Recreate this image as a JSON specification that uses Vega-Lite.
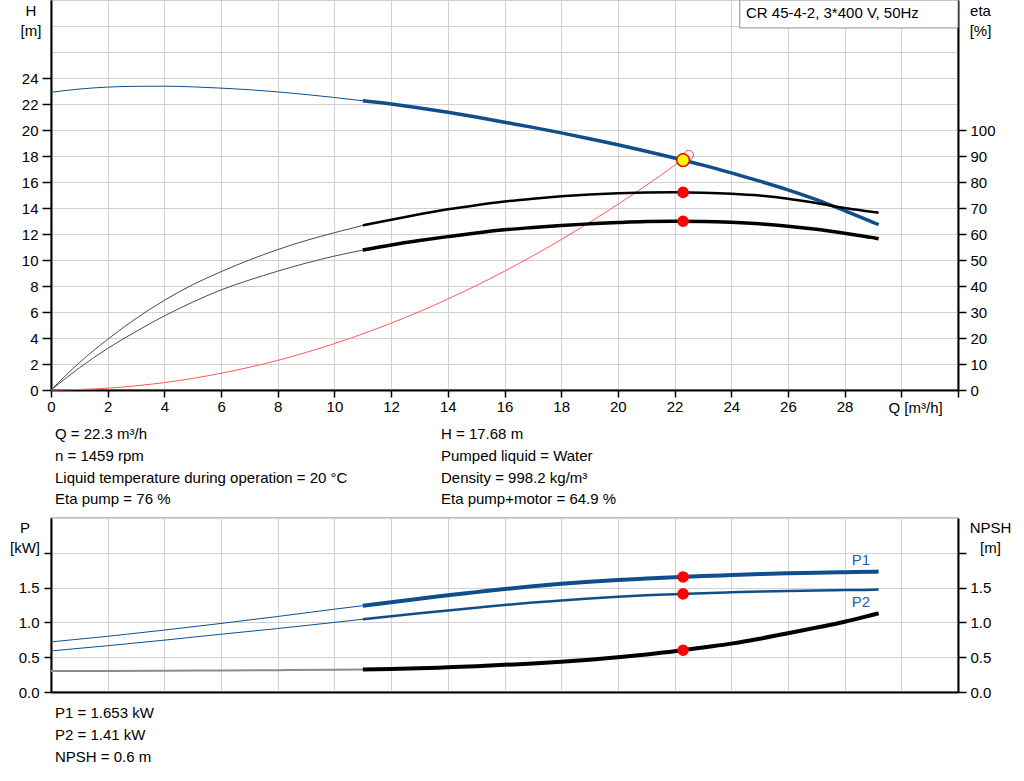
{
  "$schema": "https://vega.github.io/schema/vega-lite/v6.json",
  "description": "Pump curve CR 45-4-2: head, efficiency, power and NPSH against flow.",
  "autosize": {"type": "none"},
  "padding": {"left": 51, "top": 0, "right": 973, "bottom": 781},
  "background": "white",
  "config": {
    "font": "Liberation Sans",
    "view": {"stroke": null},
    "axis": {
      "labelFont": "Liberation Sans", "labelFontSize": 15, "labelColor": "#000",
      "labelFlush": false, "labelOverlap": false,
      "titleFont": "Liberation Sans", "titleFontSize": 15, "titleFontWeight": "normal", "titleColor": "#000",
      "domainColor": "#000", "domainWidth": 2,
      "tickColor": "#000", "tickWidth": 1.5,
      "gridColor": "#d2d2d2", "gridWidth": 1
    },
    "text": {"font": "Liberation Sans", "fontSize": 15, "color": "#000"}
  },
  "datasets": {
    "h": [
      {"seg": "ext", "Q": 0, "v": 22.9}, {"seg": "ext", "Q": 1, "v": 23.15}, {"seg": "ext", "Q": 2, "v": 23.3},
      {"seg": "ext", "Q": 3, "v": 23.36}, {"seg": "ext", "Q": 4, "v": 23.37}, {"seg": "ext", "Q": 5, "v": 23.32},
      {"seg": "ext", "Q": 6, "v": 23.22}, {"seg": "ext", "Q": 7, "v": 23.1}, {"seg": "ext", "Q": 8, "v": 22.93},
      {"seg": "ext", "Q": 9, "v": 22.73}, {"seg": "ext", "Q": 10, "v": 22.5}, {"seg": "ext", "Q": 11, "v": 22.25},
      {"seg": "op", "Q": 11, "v": 22.25}, {"seg": "op", "Q": 12, "v": 22.0}, {"seg": "op", "Q": 13, "v": 21.7},
      {"seg": "op", "Q": 14, "v": 21.37}, {"seg": "op", "Q": 15, "v": 21.0}, {"seg": "op", "Q": 16, "v": 20.6},
      {"seg": "op", "Q": 17, "v": 20.2}, {"seg": "op", "Q": 18, "v": 19.78}, {"seg": "op", "Q": 19, "v": 19.33},
      {"seg": "op", "Q": 20, "v": 18.86}, {"seg": "op", "Q": 21, "v": 18.37}, {"seg": "op", "Q": 22, "v": 17.85},
      {"seg": "op", "Q": 23, "v": 17.3}, {"seg": "op", "Q": 24, "v": 16.7}, {"seg": "op", "Q": 25, "v": 16.07},
      {"seg": "op", "Q": 26, "v": 15.4}, {"seg": "op", "Q": 27, "v": 14.65}, {"seg": "op", "Q": 28, "v": 13.8},
      {"seg": "op", "Q": 29, "v": 12.9}, {"seg": "op", "Q": 29.2, "v": 12.72}
    ],
    "eta": [
      {"curve": "pump", "seg": "ext", "Q": 0, "v": 0}, {"curve": "pump", "seg": "ext", "Q": 1, "v": 10.5},
      {"curve": "pump", "seg": "ext", "Q": 2, "v": 19.5}, {"curve": "pump", "seg": "ext", "Q": 3, "v": 27.5},
      {"curve": "pump", "seg": "ext", "Q": 4, "v": 34.5}, {"curve": "pump", "seg": "ext", "Q": 5, "v": 40.5},
      {"curve": "pump", "seg": "ext", "Q": 6, "v": 45.5}, {"curve": "pump", "seg": "ext", "Q": 7, "v": 50},
      {"curve": "pump", "seg": "ext", "Q": 8, "v": 54}, {"curve": "pump", "seg": "ext", "Q": 9, "v": 57.5},
      {"curve": "pump", "seg": "ext", "Q": 10, "v": 60.5}, {"curve": "pump", "seg": "ext", "Q": 11, "v": 63.3},
      {"curve": "pump", "seg": "op", "Q": 11, "v": 63.3}, {"curve": "pump", "seg": "op", "Q": 12, "v": 65.5},
      {"curve": "pump", "seg": "op", "Q": 13, "v": 67.6}, {"curve": "pump", "seg": "op", "Q": 14, "v": 69.5},
      {"curve": "pump", "seg": "op", "Q": 15, "v": 71.1}, {"curve": "pump", "seg": "op", "Q": 16, "v": 72.5},
      {"curve": "pump", "seg": "op", "Q": 17, "v": 73.6}, {"curve": "pump", "seg": "op", "Q": 18, "v": 74.5},
      {"curve": "pump", "seg": "op", "Q": 19, "v": 75.2}, {"curve": "pump", "seg": "op", "Q": 20, "v": 75.7},
      {"curve": "pump", "seg": "op", "Q": 21, "v": 76.0}, {"curve": "pump", "seg": "op", "Q": 22, "v": 76.1},
      {"curve": "pump", "seg": "op", "Q": 23, "v": 75.9}, {"curve": "pump", "seg": "op", "Q": 24, "v": 75.5},
      {"curve": "pump", "seg": "op", "Q": 25, "v": 74.8}, {"curve": "pump", "seg": "op", "Q": 26, "v": 73.6},
      {"curve": "pump", "seg": "op", "Q": 27, "v": 71.9}, {"curve": "pump", "seg": "op", "Q": 28, "v": 70.0},
      {"curve": "pump", "seg": "op", "Q": 29, "v": 68.5}, {"curve": "pump", "seg": "op", "Q": 29.2, "v": 68.2},
      {"curve": "total", "seg": "ext", "Q": 0, "v": 0}, {"curve": "total", "seg": "ext", "Q": 1, "v": 8.5},
      {"curve": "total", "seg": "ext", "Q": 2, "v": 16}, {"curve": "total", "seg": "ext", "Q": 3, "v": 22.5},
      {"curve": "total", "seg": "ext", "Q": 4, "v": 28.5}, {"curve": "total", "seg": "ext", "Q": 5, "v": 33.8},
      {"curve": "total", "seg": "ext", "Q": 6, "v": 38.5}, {"curve": "total", "seg": "ext", "Q": 7, "v": 42.3},
      {"curve": "total", "seg": "ext", "Q": 8, "v": 45.7}, {"curve": "total", "seg": "ext", "Q": 9, "v": 48.8},
      {"curve": "total", "seg": "ext", "Q": 10, "v": 51.5}, {"curve": "total", "seg": "ext", "Q": 11, "v": 53.8},
      {"curve": "total", "seg": "op", "Q": 11, "v": 53.8}, {"curve": "total", "seg": "op", "Q": 12, "v": 55.8},
      {"curve": "total", "seg": "op", "Q": 13, "v": 57.5}, {"curve": "total", "seg": "op", "Q": 14, "v": 59.0},
      {"curve": "total", "seg": "op", "Q": 15, "v": 60.4}, {"curve": "total", "seg": "op", "Q": 16, "v": 61.6},
      {"curve": "total", "seg": "op", "Q": 17, "v": 62.5}, {"curve": "total", "seg": "op", "Q": 18, "v": 63.3},
      {"curve": "total", "seg": "op", "Q": 19, "v": 63.9}, {"curve": "total", "seg": "op", "Q": 20, "v": 64.4},
      {"curve": "total", "seg": "op", "Q": 21, "v": 64.8}, {"curve": "total", "seg": "op", "Q": 22, "v": 64.95},
      {"curve": "total", "seg": "op", "Q": 23, "v": 64.85}, {"curve": "total", "seg": "op", "Q": 24, "v": 64.5},
      {"curve": "total", "seg": "op", "Q": 25, "v": 63.9}, {"curve": "total", "seg": "op", "Q": 26, "v": 63.0},
      {"curve": "total", "seg": "op", "Q": 27, "v": 61.8}, {"curve": "total", "seg": "op", "Q": 28, "v": 60.3},
      {"curve": "total", "seg": "op", "Q": 29, "v": 58.6}, {"curve": "total", "seg": "op", "Q": 29.2, "v": 58.2}
    ],
    "sys": [
      {"Q": 0, "v": 0}, {"Q": 1, "v": 0.04}, {"Q": 2, "v": 0.14}, {"Q": 3, "v": 0.32}, {"Q": 4, "v": 0.57},
      {"Q": 5, "v": 0.89}, {"Q": 6, "v": 1.29}, {"Q": 7, "v": 1.75}, {"Q": 8, "v": 2.28}, {"Q": 9, "v": 2.89},
      {"Q": 10, "v": 3.57}, {"Q": 11, "v": 4.32}, {"Q": 12, "v": 5.14}, {"Q": 13, "v": 6.03}, {"Q": 14, "v": 7.0},
      {"Q": 15, "v": 8.03}, {"Q": 16, "v": 9.14}, {"Q": 17, "v": 10.32}, {"Q": 18, "v": 11.57}, {"Q": 19, "v": 12.89},
      {"Q": 20, "v": 14.28}, {"Q": 21, "v": 15.74}, {"Q": 22, "v": 17.28}, {"Q": 22.5, "v": 18.07}
    ],
    "pwr": [
      {"curve": "P1", "seg": "ext", "Q": 0, "v": 0.72}, {"curve": "P1", "seg": "ext", "Q": 2, "v": 0.8},
      {"curve": "P1", "seg": "ext", "Q": 4, "v": 0.89}, {"curve": "P1", "seg": "ext", "Q": 6, "v": 0.985},
      {"curve": "P1", "seg": "ext", "Q": 8, "v": 1.085}, {"curve": "P1", "seg": "ext", "Q": 10, "v": 1.19},
      {"curve": "P1", "seg": "ext", "Q": 11, "v": 1.24},
      {"curve": "P1", "seg": "op", "Q": 11, "v": 1.24}, {"curve": "P1", "seg": "op", "Q": 12, "v": 1.29},
      {"curve": "P1", "seg": "op", "Q": 13, "v": 1.34}, {"curve": "P1", "seg": "op", "Q": 14, "v": 1.39},
      {"curve": "P1", "seg": "op", "Q": 15, "v": 1.435}, {"curve": "P1", "seg": "op", "Q": 16, "v": 1.48},
      {"curve": "P1", "seg": "op", "Q": 17, "v": 1.52}, {"curve": "P1", "seg": "op", "Q": 18, "v": 1.555},
      {"curve": "P1", "seg": "op", "Q": 19, "v": 1.585}, {"curve": "P1", "seg": "op", "Q": 20, "v": 1.61},
      {"curve": "P1", "seg": "op", "Q": 21, "v": 1.63}, {"curve": "P1", "seg": "op", "Q": 22, "v": 1.648},
      {"curve": "P1", "seg": "op", "Q": 23, "v": 1.665}, {"curve": "P1", "seg": "op", "Q": 24, "v": 1.68},
      {"curve": "P1", "seg": "op", "Q": 25, "v": 1.695}, {"curve": "P1", "seg": "op", "Q": 26, "v": 1.705},
      {"curve": "P1", "seg": "op", "Q": 27, "v": 1.715}, {"curve": "P1", "seg": "op", "Q": 28, "v": 1.722},
      {"curve": "P1", "seg": "op", "Q": 29, "v": 1.728}, {"curve": "P1", "seg": "op", "Q": 29.2, "v": 1.73},
      {"curve": "P2", "seg": "ext", "Q": 0, "v": 0.59}, {"curve": "P2", "seg": "ext", "Q": 2, "v": 0.665},
      {"curve": "P2", "seg": "ext", "Q": 4, "v": 0.745}, {"curve": "P2", "seg": "ext", "Q": 6, "v": 0.83},
      {"curve": "P2", "seg": "ext", "Q": 8, "v": 0.912}, {"curve": "P2", "seg": "ext", "Q": 10, "v": 1.0},
      {"curve": "P2", "seg": "ext", "Q": 11, "v": 1.045},
      {"curve": "P2", "seg": "op", "Q": 11, "v": 1.045}, {"curve": "P2", "seg": "op", "Q": 12, "v": 1.09},
      {"curve": "P2", "seg": "op", "Q": 13, "v": 1.13}, {"curve": "P2", "seg": "op", "Q": 14, "v": 1.17},
      {"curve": "P2", "seg": "op", "Q": 15, "v": 1.21}, {"curve": "P2", "seg": "op", "Q": 16, "v": 1.25},
      {"curve": "P2", "seg": "op", "Q": 17, "v": 1.285}, {"curve": "P2", "seg": "op", "Q": 18, "v": 1.315},
      {"curve": "P2", "seg": "op", "Q": 19, "v": 1.345}, {"curve": "P2", "seg": "op", "Q": 20, "v": 1.37},
      {"curve": "P2", "seg": "op", "Q": 21, "v": 1.39}, {"curve": "P2", "seg": "op", "Q": 22, "v": 1.405},
      {"curve": "P2", "seg": "op", "Q": 23, "v": 1.42}, {"curve": "P2", "seg": "op", "Q": 24, "v": 1.432},
      {"curve": "P2", "seg": "op", "Q": 25, "v": 1.443}, {"curve": "P2", "seg": "op", "Q": 26, "v": 1.452},
      {"curve": "P2", "seg": "op", "Q": 27, "v": 1.46}, {"curve": "P2", "seg": "op", "Q": 28, "v": 1.465},
      {"curve": "P2", "seg": "op", "Q": 29, "v": 1.47}, {"curve": "P2", "seg": "op", "Q": 29.2, "v": 1.472}
    ],
    "npsh": [
      {"seg": "ext", "Q": 0, "v": 0.3}, {"seg": "ext", "Q": 2, "v": 0.303}, {"seg": "ext", "Q": 4, "v": 0.306},
      {"seg": "ext", "Q": 6, "v": 0.31}, {"seg": "ext", "Q": 8, "v": 0.314}, {"seg": "ext", "Q": 10, "v": 0.319},
      {"seg": "ext", "Q": 11, "v": 0.323},
      {"seg": "op", "Q": 11, "v": 0.323}, {"seg": "op", "Q": 12, "v": 0.33}, {"seg": "op", "Q": 13, "v": 0.34},
      {"seg": "op", "Q": 14, "v": 0.355}, {"seg": "op", "Q": 15, "v": 0.37}, {"seg": "op", "Q": 16, "v": 0.39},
      {"seg": "op", "Q": 17, "v": 0.41}, {"seg": "op", "Q": 18, "v": 0.435}, {"seg": "op", "Q": 19, "v": 0.465},
      {"seg": "op", "Q": 20, "v": 0.5}, {"seg": "op", "Q": 21, "v": 0.54}, {"seg": "op", "Q": 22, "v": 0.585},
      {"seg": "op", "Q": 23, "v": 0.64}, {"seg": "op", "Q": 24, "v": 0.695}, {"seg": "op", "Q": 25, "v": 0.765},
      {"seg": "op", "Q": 26, "v": 0.845}, {"seg": "op", "Q": 27, "v": 0.925}, {"seg": "op", "Q": 28, "v": 1.01},
      {"seg": "op", "Q": 29, "v": 1.11}, {"seg": "op", "Q": 29.2, "v": 1.13}
    ],
    "pts": [
      {"panel": "H", "kind": "op", "Q": 22.3, "v": 17.68},
      {"panel": "H", "kind": "end", "Q": 22.5, "v": 18.07},
      {"panel": "eta", "kind": "dot", "Q": 22.3, "v": 76},
      {"panel": "eta", "kind": "dot", "Q": 22.3, "v": 64.9},
      {"panel": "P", "kind": "dot", "Q": 22.3, "v": 1.653},
      {"panel": "P", "kind": "dot", "Q": 22.3, "v": 1.41},
      {"panel": "NPSH", "kind": "dot", "Q": 22.3, "v": 0.6}
    ],
    "box": [{"label": "CR 45-4-2, 3*400 V, 50Hz"}],
    "plabels": [
      {"curve": "P1", "Q": 28.25, "v": 1.825},
      {"curve": "P2", "Q": 28.25, "v": 1.226}
    ],
    "info_top": [
      {"col": 0, "row": 1, "txt": "Q = 22.3 m³/h"},
      {"col": 0, "row": 2, "txt": "n = 1459 rpm"},
      {"col": 0, "row": 3, "txt": "Liquid temperature during operation = 20 °C"},
      {"col": 0, "row": 4, "txt": "Eta pump = 76 %"},
      {"col": 1, "row": 1, "txt": "H = 17.68 m"},
      {"col": 1, "row": 2, "txt": "Pumped liquid = Water"},
      {"col": 1, "row": 3, "txt": "Density = 998.2 kg/m³"},
      {"col": 1, "row": 4, "txt": "Eta pump+motor = 64.9 %"}
    ],
    "info_bot": [
      {"col": 0, "row": 1, "txt": "P1 = 1.653 kW"},
      {"col": 0, "row": 2, "txt": "P2 = 1.41 kW"},
      {"col": 0, "row": 3, "txt": "NPSH = 0.6 m"}
    ]
  },
  "spacing": 0,
  "bounds": "flush",
  "vconcat": [
    {
      "width": 907,
      "height": 390,
      "view": {"stroke": "#a6a6a6", "strokeWidth": 1.5},
      "layer": [
        {
          "layer": [
            {
              "data": {"name": "h"},
              "transform": [{"filter": "datum.seg == 'ext'"}],
              "mark": {"type": "line", "color": "#104e8b", "strokeWidth": 1, "interpolate": "monotone"},
              "encoding": {
                "x": {
                  "field": "Q", "type": "quantitative",
                  "scale": {"domain": [0, 32], "nice": false},
                  "axis": {
                    "values": [0, 2, 4, 6, 8, 10, 12, 14, 16, 18, 20, 22, 24, 26, 28, 30, 32],
                    "tickCount": 100, "format": "d",
                    "labelExpr": "datum.value > 28 ? '' : datum.label",
                    "labelOverlap": false, "labelBound": false,
                    "tickSize": 7, "labelPadding": 2, "grid": true,
                    "title": "Q [m³/h]", "titleX": 837, "titleY": 22.7,
                    "titleAlign": "left", "titleBaseline": "alphabetic"
                  }
                },
                "y": {
                  "field": "v", "type": "quantitative",
                  "scale": {"domain": [0, 30], "nice": false},
                  "axis": {
                    "values": [0, 2, 4, 6, 8, 10, 12, 14, 16, 18, 20, 22, 24, 26, 28, 30],
                    "tickCount": 100, "format": "d",
                    "labelExpr": "datum.value > 24 ? '' : datum.label",
                    "labelOverlap": false, "labelBound": false,
                    "tickOpacity": {"condition": {"test": "datum.value > 24", "value": 0}, "value": 1},
                    "tickSize": 9, "labelPadding": 4, "grid": true,
                    "title": ["H", "[m]"], "titleAngle": 0, "titleX": -20.5, "titleY": 15,
                    "titleAlign": "center", "titleBaseline": "alphabetic", "titleLineHeight": 20
                  }
                }
              }
            },
            {
              "data": {"name": "h"},
              "transform": [{"filter": "datum.seg == 'op'"}],
              "mark": {"type": "line", "color": "#104e8b", "strokeWidth": 3.5, "interpolate": "monotone"},
              "encoding": {
                "x": {"field": "Q", "type": "quantitative"},
                "y": {"field": "v", "type": "quantitative"}
              }
            },
            {
              "data": {"name": "sys"},
              "mark": {"type": "line", "color": "#ff5a5a", "strokeWidth": 1, "interpolate": "monotone"},
              "encoding": {
                "x": {"field": "Q", "type": "quantitative"},
                "y": {"field": "v", "type": "quantitative"}
              }
            },
            {
              "data": {"name": "box"},
              "mark": {"type": "rect", "fill": "white", "stroke": "#8c8c8c", "strokeWidth": 1},
              "encoding": {
                "x": {"datum": 24.3, "type": "quantitative"},
                "x2": {"datum": 32},
                "y": {"datum": 27.85, "type": "quantitative"},
                "y2": {"datum": 30}
              }
            },
            {
              "data": {"name": "box"},
              "mark": {"type": "text", "align": "left", "baseline": "alphabetic", "fontSize": 15},
              "encoding": {
                "x": {"datum": 24.52, "type": "quantitative"},
                "y": {"datum": 28.59, "type": "quantitative"},
                "text": {"field": "label"}
              }
            },
            {
              "data": {"name": "pts"},
              "transform": [{"filter": "datum.kind == 'end'"}],
              "mark": {"type": "point", "shape": "circle", "filled": false, "stroke": "#ff4040", "strokeWidth": 1, "size": 90, "opacity": 1},
              "encoding": {
                "x": {"field": "Q", "type": "quantitative"},
                "y": {"field": "v", "type": "quantitative"}
              }
            },
            {
              "data": {"name": "pts"},
              "transform": [{"filter": "datum.kind == 'op'"}],
              "mark": {"type": "point", "shape": "circle", "filled": true, "fill": "#ffff00", "stroke": "#ff0000", "strokeWidth": 1.5, "size": 160, "opacity": 1},
              "encoding": {
                "x": {"field": "Q", "type": "quantitative"},
                "y": {"field": "v", "type": "quantitative"}
              }
            }
          ]
        },
        {
          "layer": [
            {
              "data": {"name": "eta"},
              "transform": [{"filter": "datum.seg == 'ext'"}],
              "mark": {"type": "line", "color": "#4a4a4a", "strokeWidth": 1, "interpolate": "monotone"},
              "encoding": {
                "x": {"field": "Q", "type": "quantitative"},
                "y": {
                  "field": "v", "type": "quantitative",
                  "scale": {"domain": [0, 150], "nice": false},
                  "axis": {
                    "orient": "right",
                    "values": [0, 10, 20, 30, 40, 50, 60, 70, 80, 90, 100],
                    "tickCount": 100, "format": "d",
                    "labelOverlap": false, "labelBound": false,
                    "tickSize": 8, "labelPadding": 4, "grid": false,
                    "title": ["eta", "[%]"], "titleAngle": 0, "titleX": 22, "titleY": 15,
                    "titleAlign": "center", "titleBaseline": "alphabetic", "titleLineHeight": 20
                  }
                },
                "detail": {"field": "curve"}
              }
            },
            {
              "data": {"name": "eta"},
              "transform": [{"filter": "datum.seg == 'op' && datum.curve == 'pump'"}],
              "mark": {"type": "line", "color": "#000", "strokeWidth": 2.5, "interpolate": "monotone"},
              "encoding": {
                "x": {"field": "Q", "type": "quantitative"},
                "y": {"field": "v", "type": "quantitative"}
              }
            },
            {
              "data": {"name": "eta"},
              "transform": [{"filter": "datum.seg == 'op' && datum.curve == 'total'"}],
              "mark": {"type": "line", "color": "#000", "strokeWidth": 3.5, "interpolate": "monotone"},
              "encoding": {
                "x": {"field": "Q", "type": "quantitative"},
                "y": {"field": "v", "type": "quantitative"}
              }
            },
            {
              "data": {"name": "pts"},
              "transform": [{"filter": "datum.panel == 'eta'"}],
              "mark": {"type": "circle", "color": "#ff0000", "size": 135, "opacity": 1},
              "encoding": {
                "x": {"field": "Q", "type": "quantitative"},
                "y": {"field": "v", "type": "quantitative"}
              }
            }
          ]
        }
      ],
      "resolve": {"scale": {"y": "independent"}}
    },
    {
      "width": 907,
      "height": 128,
      "data": {"name": "info_top"},
      "mark": {"type": "text", "align": "left", "baseline": "alphabetic", "fontSize": 15},
      "encoding": {
        "x": {"field": "col", "type": "quantitative", "scale": {"domain": [0, 1], "range": [4, 390], "nice": false}, "axis": null},
        "y": {"field": "row", "type": "quantitative", "scale": {"domain": [-1.302, 4.651], "reverse": true, "nice": false, "zero": false}, "axis": null},
        "text": {"field": "txt"}
      }
    },
    {
      "width": 907,
      "height": 174,
      "view": {"stroke": "#a6a6a6", "strokeWidth": 1.5},
      "layer": [
        {
          "layer": [
            {
              "data": {"name": "pwr"},
              "transform": [{"filter": "datum.seg == 'ext'"}],
              "mark": {"type": "line", "color": "#104e8b", "strokeWidth": 1, "interpolate": "monotone"},
              "encoding": {
                "x": {
                  "field": "Q", "type": "quantitative",
                  "scale": {"domain": [0, 32], "nice": false},
                  "axis": {
                    "values": [0, 2, 4, 6, 8, 10, 12, 14, 16, 18, 20, 22, 24, 26, 28, 30, 32],
                    "tickCount": 100,
                    "labels": false, "ticks": false, "grid": true, "title": null
                  }
                },
                "y": {
                  "field": "v", "type": "quantitative",
                  "scale": {"domain": [0, 2.5], "nice": false},
                  "axis": {
                    "values": [0, 0.5, 1, 1.5, 2, 2.5],
                    "tickCount": 100,
                    "format": ".1f",
                    "labelExpr": "datum.value >= 2 ? '' : datum.label",
                    "labelOverlap": false, "labelBound": false,
                    "tickOpacity": {"condition": {"test": "datum.value > 2.2", "value": 0}, "value": 1},
                    "tickSize": 7, "labelPadding": 5, "grid": true,
                    "title": ["P", "[kW]"], "titleAngle": 0, "titleX": -26.5, "titleY": 14.7,
                    "titleAlign": "center", "titleBaseline": "alphabetic", "titleLineHeight": 19.5
                  }
                },
                "detail": {"field": "curve"}
              }
            },
            {
              "data": {"name": "pwr"},
              "transform": [{"filter": "datum.seg == 'op' && datum.curve == 'P1'"}],
              "mark": {"type": "line", "color": "#104e8b", "strokeWidth": 4, "interpolate": "monotone"},
              "encoding": {
                "x": {"field": "Q", "type": "quantitative"},
                "y": {"field": "v", "type": "quantitative"}
              }
            },
            {
              "data": {"name": "pwr"},
              "transform": [{"filter": "datum.seg == 'op' && datum.curve == 'P2'"}],
              "mark": {"type": "line", "color": "#104e8b", "strokeWidth": 2.5, "interpolate": "monotone"},
              "encoding": {
                "x": {"field": "Q", "type": "quantitative"},
                "y": {"field": "v", "type": "quantitative"}
              }
            },
            {
              "data": {"name": "plabels"},
              "mark": {"type": "text", "align": "left", "baseline": "alphabetic", "fontSize": 15, "color": "#1f5fa6"},
              "encoding": {
                "x": {"field": "Q", "type": "quantitative"},
                "y": {"field": "v", "type": "quantitative"},
                "text": {"field": "curve"}
              }
            },
            {
              "data": {"name": "pts"},
              "transform": [{"filter": "datum.panel == 'P'"}],
              "mark": {"type": "circle", "color": "#ff0000", "size": 135, "opacity": 1},
              "encoding": {
                "x": {"field": "Q", "type": "quantitative"},
                "y": {"field": "v", "type": "quantitative"}
              }
            }
          ]
        },
        {
          "layer": [
            {
              "data": {"name": "npsh"},
              "transform": [{"filter": "datum.seg == 'ext'"}],
              "mark": {"type": "line", "color": "#8c8c8c", "strokeWidth": 2, "interpolate": "monotone"},
              "encoding": {
                "x": {"field": "Q", "type": "quantitative"},
                "y": {
                  "field": "v", "type": "quantitative",
                  "scale": {"domain": [0, 2.5], "nice": false},
                  "axis": {
                    "orient": "right",
                    "values": [0, 0.5, 1, 1.5, 2],
                    "tickCount": 100,
                    "format": ".1f",
                    "labelExpr": "datum.value >= 2 ? '' : datum.label",
                    "labelOverlap": false, "labelBound": false,
                    "tickSize": 8, "labelPadding": 4, "grid": false,
                    "title": ["NPSH", "[m]"], "titleAngle": 0, "titleX": 32, "titleY": 14.3,
                    "titleAlign": "center", "titleBaseline": "alphabetic", "titleLineHeight": 20.5
                  }
                }
              }
            },
            {
              "data": {"name": "npsh"},
              "transform": [{"filter": "datum.seg == 'op'"}],
              "mark": {"type": "line", "color": "#000", "strokeWidth": 4, "interpolate": "monotone"},
              "encoding": {
                "x": {"field": "Q", "type": "quantitative"},
                "y": {"field": "v", "type": "quantitative"}
              }
            },
            {
              "data": {"name": "pts"},
              "transform": [{"filter": "datum.panel == 'NPSH'"}],
              "mark": {"type": "circle", "color": "#ff0000", "size": 135, "opacity": 1},
              "encoding": {
                "x": {"field": "Q", "type": "quantitative"},
                "y": {"field": "v", "type": "quantitative"}
              }
            }
          ]
        }
      ],
      "resolve": {"scale": {"y": "independent"}}
    },
    {
      "width": 907,
      "height": 89,
      "data": {"name": "info_bot"},
      "mark": {"type": "text", "align": "left", "baseline": "alphabetic", "fontSize": 15},
      "encoding": {
        "x": {"field": "col", "type": "quantitative", "scale": {"domain": [0, 1], "range": [4, 390], "nice": false}, "axis": null},
        "y": {"field": "row", "type": "quantitative", "scale": {"domain": [-0.212, 3.889], "reverse": true, "nice": false, "zero": false}, "axis": null},
        "text": {"field": "txt"}
      }
    }
  ]
}
